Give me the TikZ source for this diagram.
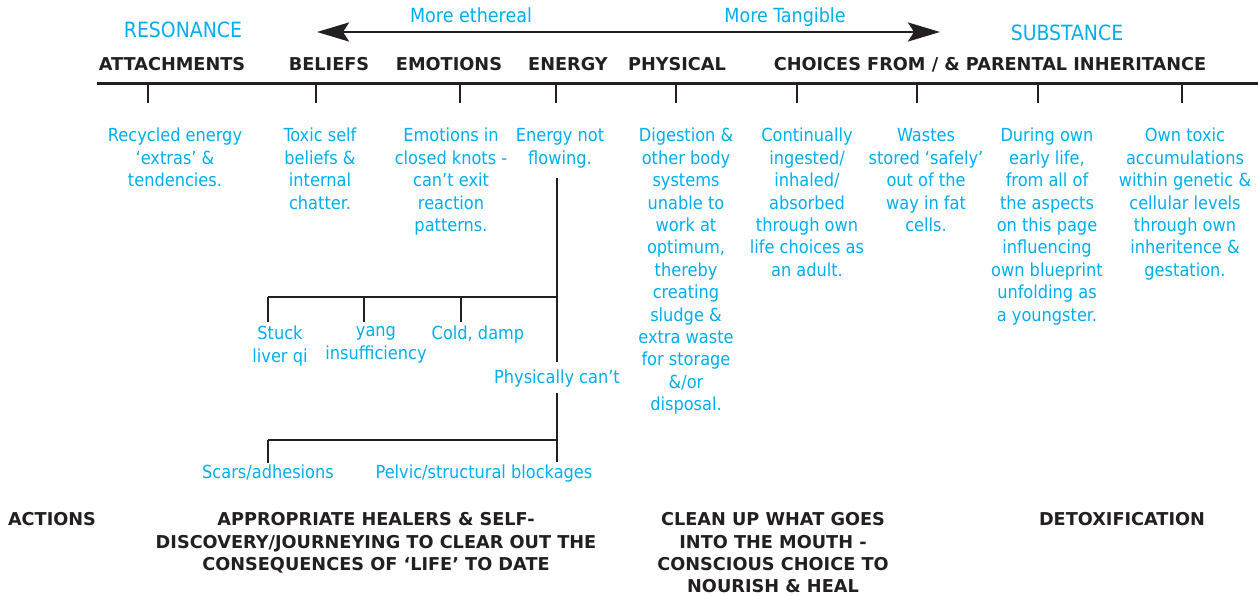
\documentclass[tikz,border=0pt]{standalone}
\usepackage{fontspec}
\setmainfont{DejaVu Sans Condensed}
\newfontfamily\hdrfont{DejaVu Sans}
\usetikzlibrary{arrows.meta}
\definecolor{cyanblue}{HTML}{00AEEF}
\definecolor{ink}{HTML}{231F20}
\begin{document}
\begin{tikzpicture}[x=1pt,y=-1pt,
  lbl/.style={text=cyanblue, font=\fontsize{18}{22.4}\selectfont, align=center, inner sep=0pt, anchor=north},
  boldtxt/.style={text=ink, font=\hdrfont\bfseries\fontsize{17.7}{22.3}\selectfont, align=center, inner sep=0pt, anchor=north},
  hdr/.style={text=ink, font=\hdrfont\bfseries\fontsize{17.7}{22.3}\selectfont, inner sep=0pt, anchor=base},
  pole/.style={text=cyanblue, font=\fontsize{21}{25}\selectfont, inner sep=0pt, anchor=base},
  dirlbl/.style={text=cyanblue, font=\fontsize{19.5}{24}\selectfont, inner sep=0pt, anchor=base},
  mainline/.style={draw=ink, line width=3pt},
  tickline/.style={draw=ink, line width=2.5pt},
  branch/.style={draw=ink, line width=2.6pt},
  dirarrow/.style={draw=ink, line width=2.2pt, {Stealth[length=32pt,width=19pt,inset=6pt]}-{Stealth[length=32pt,width=19pt,inset=6pt]}}
]
\useasboundingbox (0,0) rectangle (1258,595);

% top direction arrow
\coordinate (arrL) at (317,32);
\coordinate (arrR) at (940,32);
\draw[dirarrow] (arrL) -- (arrR);
\node[dirlbl] (ethereal) at (471,22.7) {More ethereal};
\node[dirlbl] (tangible) at (785,22.7) {More Tangible};
\node[pole] (resonance) at (183,37.3) {RESONANCE};
\node[pole] (substance) at (1067,40.7) {SUBSTANCE};

% headers
\node[hdr] (hAtt) at (172,70.5) {ATTACHMENTS};
\node[hdr] (hBel) at (329,70.5) {BELIEFS};
\node[hdr] (hEmo) at (449,70.5) {EMOTIONS};
\node[hdr] (hEne) at (568,70.5) {ENERGY};
\node[hdr] (hPhy) at (677,70.5) {PHYSICAL};
\node[hdr] (hCho) at (990,70.5) {CHOICES FROM / \& PARENTAL INHERITANCE};

% main line
\coordinate (mlL) at (97,83.5);
\coordinate (mlR) at (1258,83.5);
\draw[mainline] (mlL) -- (mlR);

% ticks
\foreach \i/\x in {1/148,2/316,3/460,4/556,5/676,6/797,7/917,8/1038,9/1182}{
  \coordinate (t\i a) at (\x,83.5);
  \coordinate (t\i b) at (\x,103);
  \draw[tickline] (t\i a) -- (t\i b);
}

% descriptions
\node[lbl] (d1) at (175,126) {\strut Recycled energy\\‘extras’ \&\\tendencies.};
\node[lbl] (d2) at (320,126) {\strut Toxic self\\beliefs \&\\internal\\chatter.};
\node[lbl] (d3) at (451,126) {\strut Emotions in\\closed knots -\\can’t exit\\reaction\\patterns.};
\node[lbl] (d4) at (560,126) {\strut Energy not\\flowing.};
\node[lbl] (d5) at (686,126) {\strut Digestion \&\\other body\\systems\\unable to\\work at\\optimum,\\thereby\\creating\\sludge \&\\extra waste\\for storage\\\&/or\\disposal.};
\node[lbl] (d6) at (807,126) {\strut Continually\\ingested/\\inhaled/\\absorbed\\through own\\life choices as\\an adult.};
\node[lbl] (d7) at (926,126) {\strut Wastes\\stored ‘safely’\\out of the\\way in fat\\cells.};
\node[lbl] (d8) at (1047,126) {\strut During own\\early life,\\from all of\\the aspects\\on this page\\influencing\\own blueprint\\unfolding as\\a youngster.};
\node[lbl] (d9) at (1185,126) {\strut Own toxic\\accumulations\\within genetic \&\\cellular levels\\through own\\inheritence \&\\gestation.};

% energy subtree
\coordinate (e0) at (557,178);
\coordinate (e1) at (557,297);
\coordinate (e2) at (557,362);
\coordinate (e3) at (557,393);
\coordinate (e4) at (557,440);
\coordinate (e5) at (557,462);
\draw[branch] (e0) -- (e2);
\draw[branch] (e3) -- (e5);

\coordinate (u1) at (268,297); \coordinate (u1b) at (268,322);
\coordinate (u2) at (364,297); \coordinate (u2b) at (364,322);
\coordinate (u3) at (461,297); \coordinate (u3b) at (461,322);
\draw[branch] (u1) -- (e1);
\draw[branch] (u1) -- (u1b);
\draw[branch] (u2) -- (u2b);
\draw[branch] (u3) -- (u3b);

\coordinate (l1) at (268,440); \coordinate (l1b) at (268,463);
\draw[branch] (l1) -- (e4);
\draw[branch] (l1) -- (l1b);

\node[lbl] (stuck) at (280,324) {\strut Stuck\\liver qi};
\node[lbl] (yang) at (376,321) {\strut yang\\insufficiency};
\node[lbl] (cold) at (478,324) {\strut Cold, damp};
\node[lbl] (phys) at (557,368) {\strut Physically can’t};
\node[lbl] (scars) at (268,463) {\strut Scars/adhesions};
\node[lbl] (pelvic) at (484,463) {\strut Pelvic/structural blockages};

% actions
\node[boldtxt] (actions) at (52,510) {\strut ACTIONS};
\node[boldtxt] (act1) at (376,510) {\strut APPROPRIATE HEALERS \& SELF-\\DISCOVERY/JOURNEYING TO CLEAR OUT THE\\CONSEQUENCES OF ‘LIFE’ TO DATE};
\node[boldtxt] (act2) at (773,510) {\strut CLEAN UP WHAT GOES\\INTO THE MOUTH -\\CONSCIOUS CHOICE TO\\NOURISH \& HEAL};
\node[boldtxt] (act3) at (1122,510) {\strut DETOXIFICATION};
\end{tikzpicture}
\end{document}
